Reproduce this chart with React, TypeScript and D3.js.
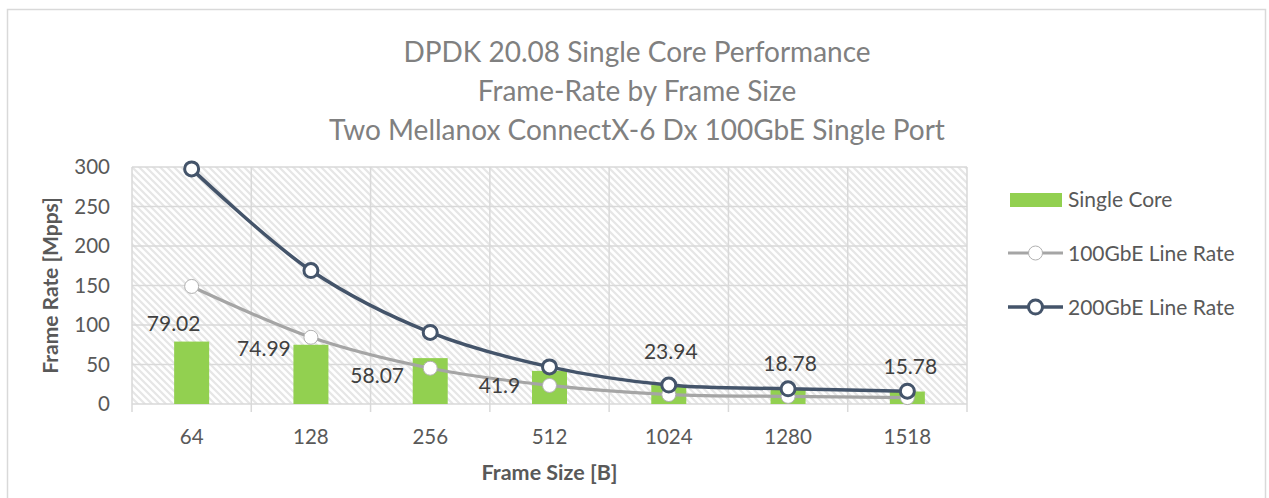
import { useEffect, useRef } from "react";
import * as d3 from "d3";

const frameSizes = ["64", "128", "256", "512", "1024", "1280", "1518"];
const singleCore = [79.02, 74.99, 58.07, 41.9, 23.94, 18.78, 15.78];
const lineRate100 = [148.81, 84.46, 45.29, 23.5, 11.97, 9.62, 8.13];
const lineRate200 = [297.62, 168.92, 90.58, 46.99, 23.95, 19.23, 16.26];
const yTicks = [0, 50, 100, 150, 200, 250, 300];
const titleLines = [
  "DPDK 20.08 Single Core Performance",
  "Frame-Rate by Frame Size",
  "Two Mellanox ConnectX-6 Dx 100GbE Single Port",
];
// where Excel put each bar label, relative to the bar top (px)
const labelShift = [
  [-18, -18],
  [-47, 4],
  [-53, 18],
  [-50, 15],
  [2, -33],
  [2, -26],
  [3, -25],
];

const FONT = "Lato, 'Open Sans', sans-serif";

export default function App() {
  const ref = useRef<SVGSVGElement>(null);

  useEffect(() => {
    const W = 1269;
    const H = 498;
    const margin = { top: 167, right: 302, bottom: 94, left: 132 };
    const width = W - margin.left - margin.right;
    const height = H - margin.top - margin.bottom;

    const root = d3.select(ref.current);
    root.selectAll("*").remove();

    const defs = root.append("defs");
    const pat = defs
      .append("pattern")
      .attr("id", "hatch")
      .attr("patternUnits", "userSpaceOnUse")
      .attr("width", 7)
      .attr("height", 7);
    pat.append("rect").attr("width", 7).attr("height", 7).attr("fill", "#ffffff");
    pat
      .append("path")
      .attr("d", "M-1,-1 L8,8 M-8,-1 L1,8 M6,-1 L15,8")
      .attr("stroke", "#e6e6e6")
      .attr("stroke-width", 2.2);

    // chart border
    root
      .append("rect")
      .attr("x", 7.5)
      .attr("y", 9.5)
      .attr("width", 1258)
      .attr("height", 500)
      .attr("fill", "#fff")
      .attr("stroke", "#d9d9d9")
      .attr("stroke-width", 1.5);

    // title
    root
      .append("g")
      .selectAll("text")
      .data(titleLines)
      .enter()
      .append("text")
      .attr("x", 637)
      .attr("y", (_d, i) => 62 + i * 39)
      .attr("text-anchor", "middle")
      .attr("font-family", FONT)
      .attr("font-size", 28)
      .attr("fill", "#808080")
      .text((d) => d);

    const svg = root.append("g").attr("transform", `translate(${margin.left},${margin.top})`);

    const x = d3.scaleBand().domain(frameSizes).range([0, width]).paddingInner(0).paddingOuter(0);
    const y = d3.scaleLinear().domain([0, 300]).range([height, 0]);

    svg
      .append("rect")
      .attr("width", width)
      .attr("height", height)
      .attr("fill", "url(#hatch)");

    // gridlines
    svg
      .append("g")
      .selectAll("line")
      .data(yTicks)
      .enter()
      .append("line")
      .attr("x1", 0)
      .attr("x2", width)
      .attr("y1", (d) => y(d))
      .attr("y2", (d) => y(d))
      .attr("stroke", "#d9d9d9")
      .attr("stroke-width", 1.5);

    const bounds = frameSizes.map((d) => x(d)!).concat([width]);
    svg
      .append("g")
      .selectAll("line")
      .data(bounds)
      .enter()
      .append("line")
      .attr("x1", (d) => d)
      .attr("x2", (d) => d)
      .attr("y1", 0)
      .attr("y2", height + 8)
      .attr("stroke", "#d9d9d9")
      .attr("stroke-width", 1.5);

    // y tick labels
    svg
      .append("g")
      .selectAll("text")
      .data(yTicks)
      .enter()
      .append("text")
      .attr("x", -22)
      .attr("y", (d) => y(d))
      .attr("dy", "0.35em")
      .attr("text-anchor", "end")
      .attr("font-family", FONT)
      .attr("font-size", 20.5)
      .attr("fill", "#595959")
      .text((d) => d);

    // x tick labels
    svg
      .append("g")
      .selectAll("text")
      .data(frameSizes)
      .enter()
      .append("text")
      .attr("x", (d) => x(d)! + x.bandwidth() / 2)
      .attr("y", height + 40)
      .attr("text-anchor", "middle")
      .attr("font-family", FONT)
      .attr("font-size", 20.5)
      .attr("fill", "#595959")
      .text((d) => d);

    // axis titles
    svg
      .append("text")
      .attr("transform", `translate(${51 - margin.left},${height / 2}) rotate(-90)`)
      .attr("text-anchor", "middle")
      .attr("dy", "0.35em")
      .attr("font-family", FONT)
      .attr("font-size", 21)
      .attr("font-weight", "bold")
      .attr("fill", "#595959")
      .text("Frame Rate [Mpps]");

    svg
      .append("text")
      .attr("x", width / 2)
      .attr("y", height + 76)
      .attr("text-anchor", "middle")
      .attr("font-family", FONT)
      .attr("font-size", 21.5)
      .attr("font-weight", "bold")
      .attr("fill", "#595959")
      .text("Frame Size [B]");

    // bars
    const barW = 35;
    svg
      .append("g")
      .selectAll("rect")
      .data(singleCore)
      .enter()
      .append("rect")
      .attr("x", (_d, i) => x(frameSizes[i])! + x.bandwidth() / 2 - barW / 2)
      .attr("y", (d) => y(d))
      .attr("width", barW)
      .attr("height", (d) => height - y(d))
      .attr("fill", "#92d050");

    const cx = (i: number) => x(frameSizes[i])! + x.bandwidth() / 2;
    const line = d3
      .line<number>()
      .x((_d, i) => cx(i))
      .y((d) => y(d))
      .curve(d3.curveCatmullRom.alpha(0.5));

    // 100GbE line
    svg
      .append("path")
      .datum(lineRate100)
      .attr("d", line)
      .attr("fill", "none")
      .attr("stroke", "#a5a5a5")
      .attr("stroke-width", 3.2);
    svg
      .append("g")
      .selectAll("circle")
      .data(lineRate100)
      .enter()
      .append("circle")
      .attr("cx", (_d, i) => cx(i))
      .attr("cy", (d) => y(d))
      .attr("r", 7)
      .attr("fill", "#fff")
      .attr("stroke", "#b0b0b0")
      .attr("stroke-width", 1);

    // 200GbE line
    svg
      .append("path")
      .datum(lineRate200)
      .attr("d", line)
      .attr("fill", "none")
      .attr("stroke", "#44546a")
      .attr("stroke-width", 3.5);
    svg
      .append("g")
      .selectAll("circle")
      .data(lineRate200)
      .enter()
      .append("circle")
      .attr("cx", (_d, i) => cx(i))
      .attr("cy", (d) => y(d))
      .attr("r", 7)
      .attr("fill", "#fff")
      .attr("stroke", "#44546a")
      .attr("stroke-width", 3);

    // bar labels
    svg
      .append("g")
      .selectAll("text")
      .data(singleCore)
      .enter()
      .append("text")
      .attr("x", (_d, i) => cx(i) + labelShift[i][0])
      .attr("y", (d, i) => y(d) + labelShift[i][1])
      .attr("dy", "0.35em")
      .attr("text-anchor", "middle")
      .attr("font-family", FONT)
      .attr("font-size", 21)
      .attr("fill", "#404040")
      .text((d) => d);

    // legend
    const lg = root.append("g").attr("transform", "translate(1008,0)");
    lg.append("rect")
      .attr("x", 2)
      .attr("y", 193)
      .attr("width", 52)
      .attr("height", 14)
      .attr("fill", "#92d050");
    lg.append("line")
      .attr("x1", 0)
      .attr("x2", 55)
      .attr("y1", 253)
      .attr("y2", 253)
      .attr("stroke", "#a5a5a5")
      .attr("stroke-width", 3.2);
    lg.append("circle")
      .attr("cx", 27.5)
      .attr("cy", 253)
      .attr("r", 7)
      .attr("fill", "#fff")
      .attr("stroke", "#b0b0b0")
      .attr("stroke-width", 1);
    lg.append("line")
      .attr("x1", 0)
      .attr("x2", 55)
      .attr("y1", 307)
      .attr("y2", 307)
      .attr("stroke", "#44546a")
      .attr("stroke-width", 3.5);
    lg.append("circle")
      .attr("cx", 27.5)
      .attr("cy", 307)
      .attr("r", 7)
      .attr("fill", "#fff")
      .attr("stroke", "#44546a")
      .attr("stroke-width", 3);
    lg.selectAll("text.lt")
      .data(["Single Core", "100GbE Line Rate", "200GbE Line Rate"])
      .enter()
      .append("text")
      .attr("x", 60)
      .attr("y", (_d, i) => 200 + i * 54)
      .attr("dy", "0.35em")
      .attr("font-family", FONT)
      .attr("font-size", 21)
      .attr("fill", "#595959")
      .text((d) => d);
  }, []);

  return (
    <svg
      ref={ref}
      width={1269}
      height={498}
      style={{ position: "absolute", left: 0, top: 0, display: "block" }}
    />
  );
}
